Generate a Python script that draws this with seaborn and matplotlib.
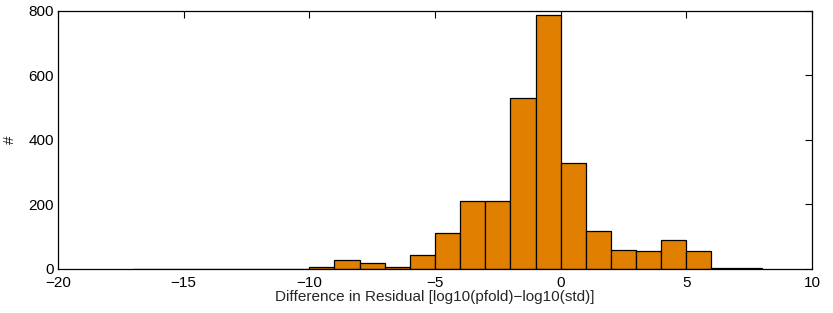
import numpy as np
import matplotlib
matplotlib.use('Agg')
import matplotlib.pyplot as plt
import seaborn as sns

# bin edges (width 1) and counts
bin_left = [-17, -16, -15, -14, -13, -12, -11, -10, -9, -8, -7, -6, -5, -4, -3,
            -2, -1, 0, 1, 2, 3, 4, 5, 6, 7]
counts = [1, 1, 1, 1, 1, 1, 1, 7, 27, 18, 6, 44, 111, 210, 211,
          531, 788, 328, 118, 59, 57, 89, 55, 3, 2]
x_ticks = [-20, -15, -10, -5, 0, 5, 10]
y_ticks = [0, 200, 400, 600, 800]

centers = np.array(bin_left) + 0.5
edges = list(bin_left) + [bin_left[-1] + 1]

sns.set_style('white')
plt.rcParams['font.family'] = ['Liberation Sans', 'DejaVu Sans']

fig = plt.figure(figsize=(8.33, 3.13), dpi=100)
ax = fig.add_axes([0.0696, 0.1406, 0.9052, 0.8243])

sns.histplot(x=centers, weights=counts, bins=edges, color='#E07F00', alpha=1,
             edgecolor='black', linewidth=0.9, ax=ax)

ax.set_xlim(-20, 10)
ax.set_ylim(0, 800)
ax.set_xticks(x_ticks)
ax.set_yticks(y_ticks)
ax.tick_params(direction='in', top=True, right=True, length=5, width=0.8,
               labelsize=11, colors='black')
ax.tick_params(axis='x', pad=5)
ax.tick_params(axis='y', pad=3)
for s in ax.spines.values():
    s.set_visible(True)
    s.set_color('black')
    s.set_linewidth(0.9)
ax.set_xlabel('Difference in Residual [log10(pfold)\u2212log10(std)]', fontsize=11, labelpad=0)
ax.set_ylabel('#', fontsize=11, labelpad=8)

fig.savefig('out.png', dpi=100)
